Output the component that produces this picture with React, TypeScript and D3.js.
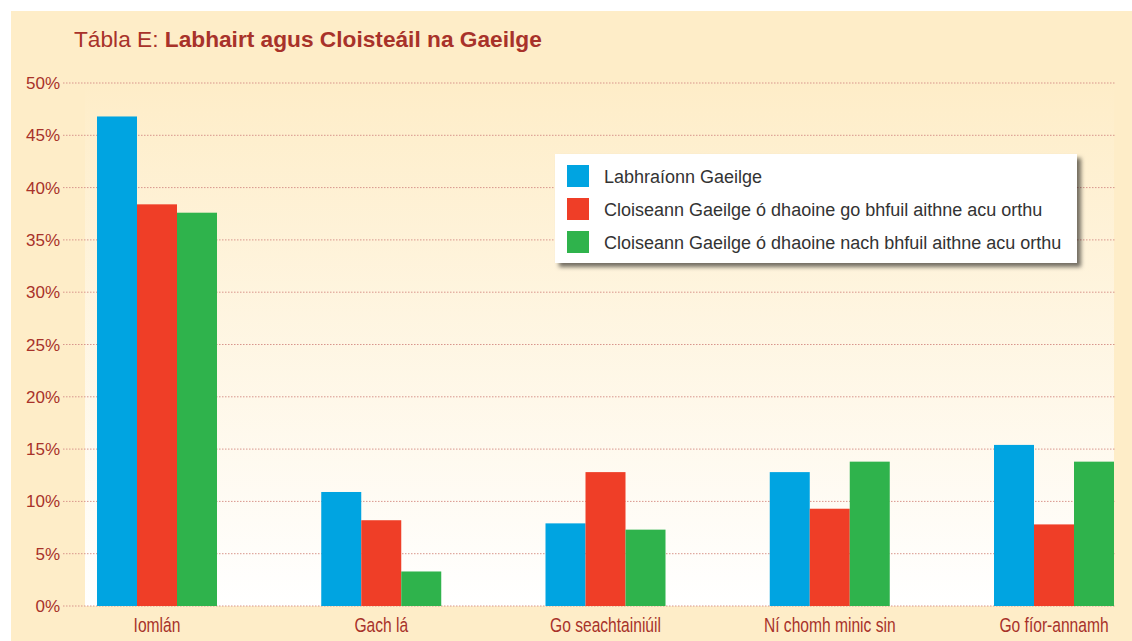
import React from "react";
import * as d3 from "d3";

const categories = ["Iomlán", "Gach lá", "Go seachtainiúil", "Ní chomh minic sin", "Go fíor-annamh"];
const seriesNames = [
  "Labhraíonn Gaeilge",
  "Cloiseann Gaeilge ó dhaoine go bhfuil aithne acu orthu",
  "Cloiseann Gaeilge ó dhaoine nach bhfuil aithne acu orthu",
];
const speaks = [46.8, 10.9, 7.9, 12.8, 15.4];
const hearsKnown = [38.4, 8.2, 12.8, 9.3, 7.8];
const hearsUnknown = [37.6, 3.3, 7.3, 13.8, 13.8];
const seriesColors = ["#00A4E1", "#EF3E27", "#2FB34C"];
const yTicks = [0, 5, 10, 15, 20, 25, 30, 35, 40, 45, 50];

const W = 1132;
const H = 641;
const TXT = "#A8322A";

export default function App() {
  const series = [speaks, hearsKnown, hearsUnknown];
  const y = d3.scaleLinear().domain([0, 50]).range([606, 83]);
  const x0 = d3.scaleBand<string>().domain(categories).range([97, 1114]).paddingInner(0.4649).paddingOuter(0);
  const x1 = d3.scaleBand<number>().domain([0, 1, 2]).range([0, x0.bandwidth()]).padding(0);

  return (
    <svg width={W} height={H} style={{ position: "absolute", left: 0, top: 0 }} xmlns="http://www.w3.org/2000/svg">
      <defs>
        <linearGradient id="plotGrad" x1="0" y1="0" x2="0" y2="1">
          <stop offset="0" stopColor="#FEEDC8" />
          <stop offset="1" stopColor="#FFFFFF" />
        </linearGradient>
        <filter id="shadow" x="-5%" y="-10%" width="115%" height="140%">
          <feDropShadow dx="4" dy="4" stdDeviation="2" floodColor="#000" floodOpacity="0.55" />
        </filter>
      </defs>
      <rect x={0} y={0} width={W} height={H} fill="#FFFFFF" />
      <rect x={11} y={11} width={W - 11} height={H - 11} fill="#FEEDC8" />
      <rect x={85} y={y(50)} width={1114 - 85} height={y(0) - y(50)} fill="url(#plotGrad)" />

      <text x={74} y={47} fontFamily="'Liberation Sans', Arial, sans-serif" fontSize={22.7} fill={TXT}>
        <tspan>Tábla E: </tspan>
        <tspan fontWeight="bold">Labhairt agus Cloisteáil na Gaeilge</tspan>
      </text>

      {yTicks.map((t) => (
        <g key={t}>
          <line x1={63} x2={1115} y1={y(t)} y2={y(t)} stroke="#D8958C" strokeWidth={1} strokeDasharray="1.5,1.5" />
          <text x={60} y={y(t) + 6} textAnchor="end" fontFamily="'Liberation Sans', Arial, sans-serif" fontSize={17} fill={TXT}>
            {t}%
          </text>
        </g>
      ))}

      {categories.map((c, i) => (
        <g key={c} transform={`translate(${x0(c)},0)`}>
          {series.map((s, j) => (
            <rect
              key={j}
              x={x1(j)}
              y={y(s[i])}
              width={x1.bandwidth()}
              height={y(0) - y(s[i])}
              fill={seriesColors[j]}
            />
          ))}
          <text
            transform={`translate(${x0.bandwidth() / 2},632) scale(0.8,1)`}
            textAnchor="middle"
            fontFamily="'Liberation Sans', Arial, sans-serif"
            fontSize={19.5}
            fill={TXT}
          >
            {c}
          </text>
        </g>
      ))}

      <g>
        <rect x={555} y={154} width={522} height={109} fill="#FFFFFF" filter="url(#shadow)" />
        {seriesNames.map((n, j) => (
          <g key={n} transform={`translate(567,${165 + j * 33})`}>
            <rect x={0} y={0} width={22} height={22} fill={seriesColors[j]} />
            <text x={37} y={18} fontFamily="'Liberation Sans', Arial, sans-serif" fontSize={18} fill="#333333">
              {n}
            </text>
          </g>
        ))}
      </g>
    </svg>
  );
}
